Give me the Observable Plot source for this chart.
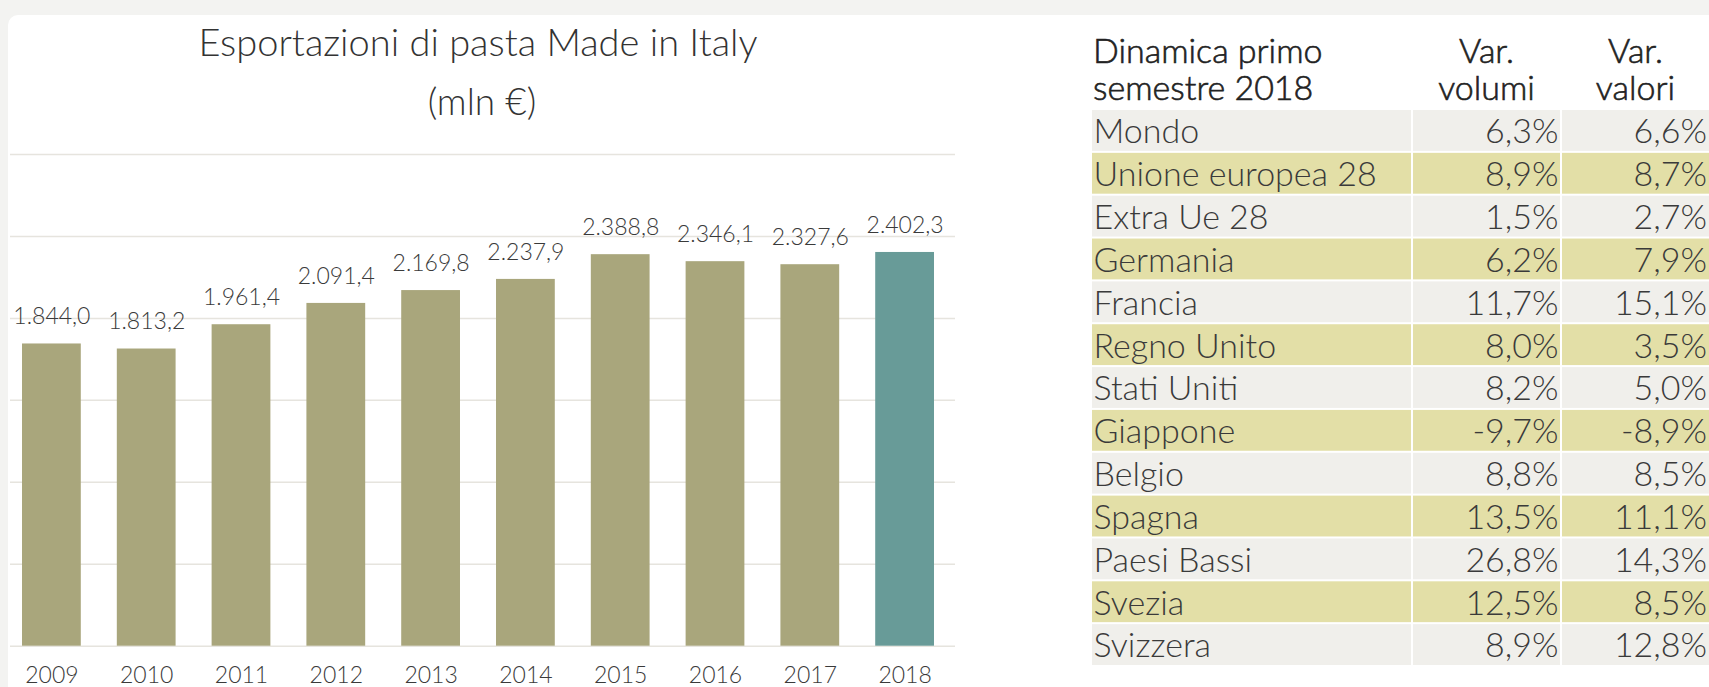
<!DOCTYPE html>
<html>
<head>
<meta charset="utf-8">
<script src="https://cdn.jsdelivr.net/npm/d3@7"></script>
<script src="https://cdn.jsdelivr.net/npm/@observablehq/plot@0.6"></script>
<style>
  html, body { margin: 0; padding: 0; }
  body { width: 1709px; height: 687px; background: #f3f3f1; position: relative; overflow: hidden;
         font-family: Lato, "Open Sans", sans-serif; color: #333; }
  #panel { position: absolute; left: 8px; top: 15px; right: 0; bottom: 0; background: #fff; border-top-left-radius: 10px; }
  .abs { position: absolute; }
  #title { left: 0; width: 956px; top: 21px; text-align: center; font-size: 38px; line-height: 40px; font-weight: 300; color: #333; }
  #subtitle { left: 4px; width: 956px; top: 81px; text-align: center; font-size: 37px; line-height: 40px; font-weight: 300; color: #333; }
  .hdr { top: 31px; font-size: 34px; line-height: 37px; font-weight: 300; color: #222; -webkit-text-stroke: 0.6px #222; white-space: nowrap; }
  #h1 { left: 1093px; }
  #h2 { left: 1413px; width: 147px; text-align: center; }
  #h3 { left: 1562px; width: 147px; text-align: center; }
  svg { display: block; }
</style>
</head>
<body>
<div id="panel"></div>
<div id="title" class="abs"></div>
<div id="subtitle" class="abs"></div>
<div id="chart" class="abs" style="left:0;top:140px;"></div>
<div id="h1" class="abs hdr"></div>
<div id="h2" class="abs hdr"></div>
<div id="h3" class="abs hdr"></div>
<div id="c1" class="abs" style="left:1092px;top:110px;"></div>
<div id="c2" class="abs" style="left:1413px;top:110px;"></div>
<div id="c3" class="abs" style="left:1562px;top:110px;"></div>
<script>
// ---- Data ----
const chartTitle = "Esportazioni di pasta Made in Italy";
const chartSubtitle = "(mln €)";
const years = [2009, 2010, 2011, 2012, 2013, 2014, 2015, 2016, 2017, 2018];
const exportsMln = [1844.0, 1813.2, 1961.4, 2091.4, 2169.8, 2237.9, 2388.8, 2346.1, 2327.6, 2402.3];
const gridValues = [0, 500, 1000, 1500, 2000, 2500, 3000];

const tableHeader = ["Dinamica primo", "semestre 2018"];
const colVolumiHeader = ["Var.", "volumi"];
const colValoriHeader = ["Var.", "valori"];
const countries = ["Mondo", "Unione europea 28", "Extra Ue 28", "Germania", "Francia", "Regno Unito",
  "Stati Uniti", "Giappone", "Belgio", "Spagna", "Paesi Bassi", "Svezia", "Svizzera"];
const varVolumi = [6.3, 8.9, 1.5, 6.2, 11.7, 8.0, 8.2, -9.7, 8.8, 13.5, 26.8, 12.5, 8.9];
const varValori = [6.6, 8.7, 2.7, 7.9, 15.1, 3.5, 5.0, -8.9, 8.5, 11.1, 14.3, 8.5, 12.8];

// ---- Styles ----
const olive = "#a9a67c", teal = "#689b98", grid = "#e6e4de";
const rowGray = "#f0efeb", rowYellow = "#e3dfa7";
const textColor = "#3a3a3a";

const it = d3.formatLocale({decimal: ",", thousands: ".", grouping: [3], currency: ["€", ""], minus: "-"});
const fmt1 = it.format(",.1f");
const fmtPct = v => fmt1(v) + "%";

document.getElementById("title").textContent = chartTitle;
document.getElementById("subtitle").textContent = chartSubtitle;
document.getElementById("h1").innerHTML = tableHeader.join("<br>");
document.getElementById("h2").innerHTML = colVolumiHeader.join("<br>");
document.getElementById("h3").innerHTML = colValoriHeader.join("<br>");

// ---- Bar chart ----
const bars = years.map((y, i) => ({year: y, value: exportsMln[i]}));
const chart = Plot.plot({
  width: 960,
  height: 547,
  marginTop: 14,
  marginBottom: 41.3,
  marginLeft: 10,
  marginRight: 5,
  style: {fontFamily: "Lato, 'Open Sans', sans-serif", fontSize: "22px", fontWeight: 300, color: textColor, background: "transparent", overflow: "visible"},
  x: {type: "band", domain: years, range: [4, 952], paddingInner: 0.38, paddingOuter: 0.19, round: false, axis: null},
  y: {domain: [0, 3000], axis: null},
  color: {type: "identity"},
  marks: [
    Plot.ruleY(gridValues, {stroke: grid, strokeWidth: 1.5}),
    Plot.barY(bars, {x: "year", y: "value", fill: d => d.year === 2018 ? teal : olive}),
    Plot.text(bars, {x: "year", y: "value", text: d => fmt1(d.value), dy: -27, fontSize: 23, fill: textColor}),
    Plot.axisX({tickSize: 0, tickPadding: 20, fontSize: 23, label: null, tickFormat: d => String(d), fill: textColor})
  ]
});
document.getElementById("chart").appendChild(chart);

// ---- Table columns ----
const rows = countries.map((c, i) => ({name: c, vol: varVolumi[i], val: varValori[i], i}));
function column(width, textFn, anchor, dx) {
  return Plot.plot({
    width, height: 555,
    margin: 0,
    style: {fontFamily: "Lato, 'Open Sans', sans-serif", fontSize: "34px", fontWeight: 300, background: "transparent", overflow: "visible"},
    y: {type: "band", domain: countries, range: [0, 555], paddingInner: 2 / 42.7, paddingOuter: 0, round: false, axis: null},
    marks: [
      Plot.cell(rows, {y: "name", fill: rowGray, inset: 0, filter: d => d.i % 2 === 0}),
      Plot.cell(rows, {y: "name", fill: rowYellow, inset: 0, filter: d => d.i % 2 === 1}),
      Plot.text(rows, {y: "name", text: textFn, frameAnchor: anchor, textAnchor: anchor === "left" ? "start" : "end",
        dx, dy: 1.5, fontSize: 34, fill: textColor})
    ]
  });
}
document.getElementById("c1").appendChild(column(319, d => d.name, "left", 1));
document.getElementById("c2").appendChild(column(147, d => fmtPct(d.vol), "right", -2));
document.getElementById("c3").appendChild(column(147, d => fmtPct(d.val), "right", -2.5));
</script>
</body>
</html>
